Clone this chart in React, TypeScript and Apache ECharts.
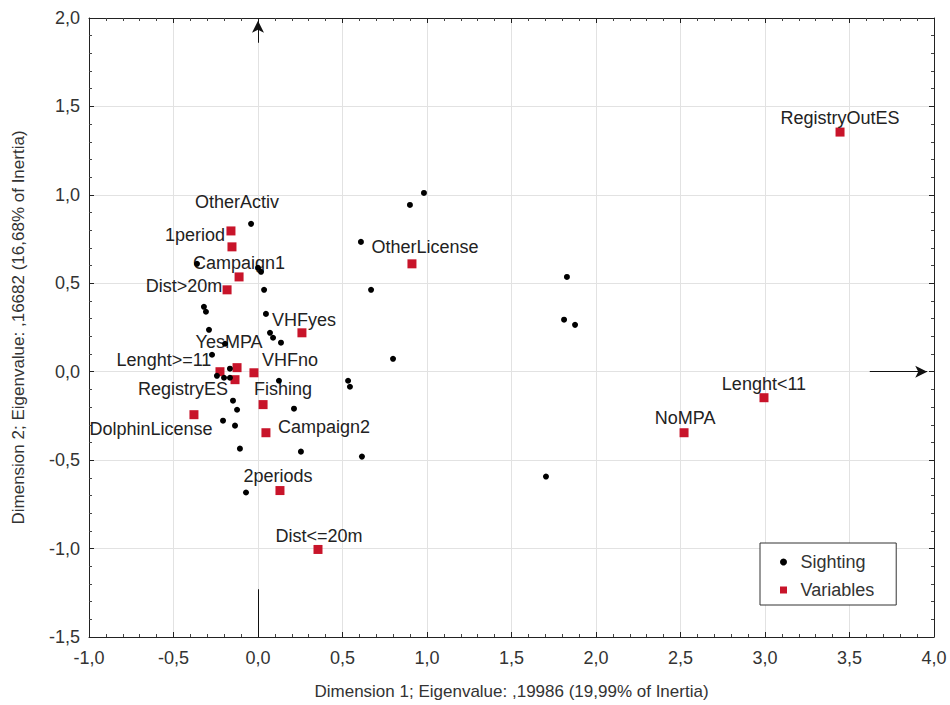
import { useEffect, useRef } from "react";
import * as echarts from "echarts";

// Sighting points (Dimension 1, Dimension 2)
const sightingX = [
  0.982, 0.899, 0.609, 0.669, 1.828, 1.811, 1.876, 0.799, 0.533, 0.544,
  1.704, 0.615, 0.254, 0.213, -0.041, -0.361, 0.0, 0.018, 0.036, -0.32,
  -0.308, 0.047, -0.29, 0.071, 0.089, 0.136, -0.195, -0.272, -0.166, -0.243,
  -0.201, -0.166, 0.124, -0.148, -0.124, -0.207, -0.136, -0.107, -0.071,
];
const sightingY = [
  1.011, 0.943, 0.734, 0.463, 0.536, 0.294, 0.265, 0.073, -0.051, -0.085,
  -0.593, -0.48, -0.452, -0.209, 0.836, 0.61, 0.587, 0.565, 0.463, 0.367,
  0.339, 0.327, 0.237, 0.22, 0.192, 0.164, 0.158, 0.096, 0.017, -0.023,
  -0.034, -0.034, -0.051, -0.164, -0.215, -0.277, -0.305, -0.435, -0.683,
];

// Variables (category points)
const variableNames = [
  "RegistryOutES", "OtherLicense", "Lenght<11", "NoMPA", "Dist<=20m",
  "2periods", "Campaign2", "Fishing", "VHFyes", "OtherActiv",
  "1period", "Campaign1", "Dist>20m", "YesMPA", "Lenght>=11",
  "VHFno", "RegistryES", "DolphinLicense",
];
const variableX = [
  3.444, 0.911, 2.994, 2.521, 0.355,
  0.13, 0.047, 0.03, 0.26, -0.16,
  -0.154, -0.112, -0.183, -0.124, -0.225,
  -0.024, -0.136, -0.379,
];
const variableY = [
  1.355, 0.61, -0.147, -0.345, -1.005,
  -0.672, -0.345, -0.186, 0.22, 0.796,
  0.706, 0.536, 0.463, 0.023, 0.0,
  -0.006, -0.045, -0.243,
];

// Axis decoration arrows, in data units: [x1, y1, x2, y2, hasArrow]
const arrowSegments: [number, number, number, number, boolean][] = [
  [0, 1.86, 0, 1.985, true],
  [3.62, 0, 3.96, 0, true],
  [0, -1.5, 0, -1.23, false],
];

// label placement tweaks (pixels)
const labelOffsets: Record<string, [number, number]> = {
  RegistryOutES: [0, 0],
  OtherLicense: [13, -2],
  "Lenght<11": [0, 1],
  NoMPA: [1, 0],
  "Dist<=20m": [1, 1],
  "2periods": [-2, 0],
  Campaign2: [58, 9],
  Fishing: [20, -1],
  VHFyes: [2, 2],
  OtherActiv: [6, -14],
  "1period": [-37, 3],
  Campaign1: [0, 1],
  "Dist>20m": [-43, 11],
  YesMPA: [-8, -11],
  "Lenght>=11": [-56, 3],
  VHFno: [36, 2],
  RegistryES: [-52, 24],
  DolphinLicense: [-43, 29],
};

const FONT = "'Liberation Sans', Arial, sans-serif";

export default function App() {
  const ref = useRef<HTMLDivElement>(null);

  useEffect(() => {
    const chart = echarts.init(ref.current!, null, { renderer: "svg" });
    const fmt = (v: number) => v.toFixed(1).replace(".", ",");
    const axisLine = { show: true, onZero: false, lineStyle: { color: "#222", width: 1 } };
    const axisTick = { show: true, inside: true, length: 5, lineStyle: { color: "#222" } };
    const minorTick = { show: true, splitNumber: 5, length: 3, lineStyle: { color: "#444" } };
    const splitLine = { show: true, lineStyle: { color: "#e2e2e2", width: 1 } };

    const markData = arrowSegments.map(([x1, y1, x2, y2, arrow]) => [
      { coord: [x1, y1], symbol: "none" },
      { coord: [x2, y2], symbol: arrow ? "arrow" : "none" },
    ]);

    chart.setOption({
      animation: false,
      backgroundColor: "#fff",
      textStyle: { fontFamily: FONT },
      grid: { left: 89, right: 16, top: 18, bottom: 67, containLabel: false },
      legend: {
        orient: "vertical",
        left: 760,
        top: 543,
        padding: [10, 22, 6, 20],
        itemWidth: 24,
        itemHeight: 7,
        itemGap: 10,
        symbolKeepAspect: true,
        borderColor: "#333",
        borderWidth: 1,
        backgroundColor: "#fff",
        textStyle: { fontSize: 18, color: "#333", fontFamily: FONT },
        data: [
          { name: "Sighting", icon: "circle" },
          { name: "Variables", icon: "path://M0 0H10V10H0Z" },
        ],
      },
      xAxis: [
        {
          type: "value",
          min: -1,
          max: 4,
          interval: 0.5,
          position: "bottom",
          name: "Dimension 1; Eigenvalue: ,19986 (19,99% of Inertia)",
          nameLocation: "middle",
          nameGap: 46,
          nameTextStyle: { fontSize: 17, color: "#333", fontFamily: FONT },
          axisLine,
          axisTick,
          minorTick,
          axisLabel: { formatter: fmt, margin: 12, fontSize: 18, color: "#333", fontFamily: FONT },
          splitLine,
        },
        {
          type: "value",
          min: -1,
          max: 4,
          interval: 0.5,
          position: "top",
          axisLine,
          axisTick,
          minorTick,
          axisLabel: { show: false },
          splitLine: { show: false },
        },
      ],
      yAxis: [
        {
          type: "value",
          min: -1.5,
          max: 2,
          interval: 0.5,
          position: "left",
          name: "Dimension 2; Eigenvalue: ,16682 (16,68% of Inertia)",
          nameLocation: "middle",
          nameGap: 62,
          nameTextStyle: { fontSize: 17, color: "#333", fontFamily: FONT },
          axisLine,
          axisTick,
          minorTick,
          axisLabel: { formatter: fmt, margin: 9, fontSize: 18, color: "#333", fontFamily: FONT },
          splitLine,
        },
        {
          type: "value",
          min: -1.5,
          max: 2,
          interval: 0.5,
          position: "right",
          axisLine,
          axisTick,
          minorTick,
          axisLabel: { show: false },
          splitLine: { show: false },
        },
      ],
      series: [
        {
          name: "Variables",
          type: "scatter",
          xAxisIndex: 0,
          yAxisIndex: 0,
          symbol: "rect",
          symbolSize: 9,
          itemStyle: { color: "#c8142a", opacity: 1 },
          label: {
            show: true,
            position: "top",
            distance: 1,
            formatter: "{b}",
            fontSize: 18,
            color: "#222",
            fontFamily: FONT,
          },
          data: variableNames.map((n, i) => ({
            name: n,
            value: [variableX[i], variableY[i]],
            label: { offset: labelOffsets[n] || [0, 0] },
          })),
          z: 3,
        },
        {
          name: "Sighting",
          type: "scatter",
          xAxisIndex: 0,
          yAxisIndex: 0,
          symbol: "circle",
          symbolSize: 6,
          itemStyle: { color: "#000", opacity: 1 },
          data: sightingX.map((x, i) => [x, sightingY[i]]),
          z: 4,
          markLine: {
            silent: true,
            symbolSize: [9, 12],
            lineStyle: { color: "#111", width: 1, type: "solid" },
            label: { show: false },
            emphasis: { disabled: true },
            data: markData,
          },
        },
      ],
    });
    return () => chart.dispose();
  }, []);

  return (
    <div
      ref={ref}
      style={{ position: "absolute", left: 0, top: 0, width: 950, height: 705, background: "#fff" }}
    />
  );
}
